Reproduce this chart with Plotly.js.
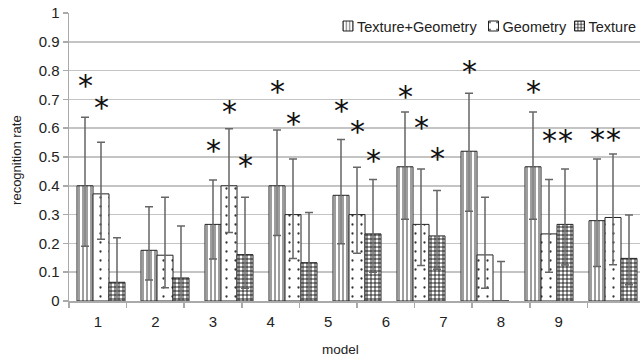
<!DOCTYPE html>
<html>
<head>
<meta charset="utf-8">
<script src="https://cdn.plot.ly/plotly-3.0.1.min.js"></script>
<style>html,body{margin:0;padding:0;background:#fff;}#chart{width:640px;height:358px;}</style>
</head>
<body>
<div id="chart"></div>
<script>
// ---- data ----
var categories = [1, 2, 3, 4, 5, 6, 7, 8, 9];
var tickLabels = ['1', '2', '3', '4', '5', '6', '7', '8', '9'];
var seriesNames = ['Texture+Geometry', 'Geometry', 'Texture'];

var texGeo    = [0.400, 0.176, 0.266, 0.400, 0.367, 0.466, 0.520, 0.466, 0.279];
var texGeoHi  = [0.638, 0.327, 0.420, 0.594, 0.561, 0.656, 0.721, 0.656, 0.493];
var texGeoLo  = [0.190, 0.073, 0.146, 0.227, 0.199, 0.284, 0.312, 0.284, 0.120];

var geometry  = [0.372, 0.159, 0.400, 0.300, 0.300, 0.266, 0.160, 0.233, 0.290];
var geometryHi= [0.551, 0.360, 0.598, 0.493, 0.464, 0.458, 0.360, 0.422, 0.510];
var geometryLo= [0.214, 0.046, 0.238, 0.148, 0.166, 0.123, 0.044, 0.100, 0.126];

var texture   = [0.065, 0.080, 0.161, 0.133, 0.233, 0.226, 0.000, 0.266, 0.148];
var textureHi = [0.220, 0.260, 0.360, 0.307, 0.422, 0.384, 0.137, 0.458, 0.299];
var textureLo = [0.000, 0.000, 0.044, 0.000, 0.100, 0.110, 0.000, 0.125, 0.056];

// significance asterisks: category, series index (0 TG, 1 G, 2 T), level
var starCat    = [1, 1, 3, 3, 3, 4, 4, 5, 5, 5, 6, 6, 6, 7, 8, 8, 8, 9, 9];
var starSeries = [0, 1, 0, 1, 2, 0, 1, 0, 1, 2, 0, 1, 2, 0, 0, 1, 2, 0, 1];
var starLevel  = [0.761, 0.686, 0.536, 0.673, 0.484, 0.742, 0.631, 0.675, 0.602, 0.503,
                  0.723, 0.617, 0.510, 0.811, 0.740, 0.570, 0.570, 0.573, 0.573];

// ---- styling ----
var FONT = 'Liberation Sans, Arial, sans-serif';
var patterns = [
  {shape: '|', size: 4, solidity: 0.22, fgcolor: '#222', bgcolor: '#fff', fillmode: 'replace'},
  {shape: '.', size: 9, solidity: 0.05, fgcolor: '#333', bgcolor: '#fff', fillmode: 'replace'},
  {shape: '+', size: 4, solidity: 0.4, fgcolor: '#111', bgcolor: '#fff', fillmode: 'replace'}
];
var vals = [texGeo, geometry, texture];
var his = [texGeoHi, geometryHi, textureHi];
var los = [texGeoLo, geometryLo, textureLo];

var traces = [];
for (var s = 0; s < 3; s++) {
  traces.push({
    type: 'bar',
    name: seriesNames[s],
    x: categories,
    y: vals[s],
    xaxis: 'x', yaxis: 'y',
    marker: {color: '#fff', pattern: patterns[s], line: {color: '#222', width: 1}},
    error_y: {
      type: 'data', symmetric: false,
      array: vals[s].map(function (v, i) { return his[s][i] - v; }),
      arrayminus: vals[s].map(function (v, i) { return v - los[s][i]; }),
      color: '#666', thickness: 1.5, width: 4
    },
    hoverinfo: 'skip'
  });
}
// helper trace for the label axis
traces.push({type: 'scatter', x: [1], y: [null], xaxis: 'x2', yaxis: 'y', showlegend: false, hoverinfo: 'skip'});

var groupWidth = 0.75, barW = groupWidth / 3;
var annotations = starCat.map(function (c, i) {
  return {
    x: c + (starSeries[i] - 1) * barW, y: starLevel[i], xref: 'x', yref: 'y',
    text: '*', showarrow: false, yshift: -4,
    font: {family: 'DejaVu Sans', size: 30, color: '#111'}
  };
});
annotations.push({text: 'recognition rate', xref: 'paper', yref: 'paper', x: -0.091, y: 0.49,
  xanchor: 'center', yanchor: 'middle',
  textangle: -90, showarrow: false, font: {family: FONT, size: 13, color: '#222'}});
annotations.push({text: 'model', xref: 'paper', yref: 'paper', x: 0.476, y: -0.167, yanchor: 'middle',
  showarrow: false, font: {family: FONT, size: 13.5, color: '#222'}});

var plotW = 640 - 69;
var layout = {
  width: 640, height: 358,
  margin: {l: 69, r: 0, t: 13, b: 57, pad: 0},
  paper_bgcolor: '#fff', plot_bgcolor: '#fff',
  font: {family: FONT, size: 13, color: '#222'},
  barmode: 'group', bargap: 0.25, bargroupgap: 0,
  showlegend: true,
  legend: {orientation: 'h', x: 1, xanchor: 'right', y: 0.955, yanchor: 'middle',
    bgcolor: 'rgba(255,255,255,0)', font: {family: FONT, size: 14.5, color: '#222'},
    traceorder: 'normal', itemwidth: 30},
  xaxis: {type: 'linear', range: [0.5, 0.5 + plotW / 64], showticklabels: false, ticks: '',
    showgrid: false, zeroline: false, showline: false, fixedrange: true},
  xaxis2: {type: 'linear', overlaying: 'x', anchor: 'y', side: 'bottom',
    range: [0.5, 0.5 + plotW / 57.6],
    tickmode: 'array', tickvals: categories, ticktext: tickLabels, ticks: '',
    ticklabelstandoff: 6,
    tickfont: {family: FONT, size: 15, color: '#222'},
    minor: {tickmode: 'linear', tick0: 0.5, dtick: 1, ticks: 'outside', ticklen: 5, tickcolor: '#aaa', tickwidth: 1.5, showgrid: false},
    showgrid: false, zeroline: false, showline: true, linecolor: '#aaa', linewidth: 1.5},
  yaxis: {range: [0, 1], dtick: 0.1, tick0: 0, ticks: 'outside', ticklen: 5, tickcolor: '#aaa', tickwidth: 1.5,
    showline: true, linecolor: '#aaa', linewidth: 1.5, gridcolor: '#c4c4c4', gridwidth: 1.5,
    zeroline: false, tickfont: {family: FONT, size: 15, color: '#222'}},
  annotations: annotations
};

// legend icon centres in the reference (pixels)
var legendIconX = [348, 493.5, 579.5];
var legendIconY = 26;

Plotly.newPlot('chart', traces, layout, {displayModeBar: false, staticPlot: true}).then(function (gd) {
  try {
    var sb = gd.querySelector('.legend .scrollbox');
    if (sb) sb.removeAttribute('clip-path');
    var items = gd.querySelectorAll('.legend .traces');
    items.forEach(function (g, i) {
      var path = g.querySelector('.legendpoints path');
      var txt = g.querySelector('.legendtext');
      if (!path || !txt) return;
      path.setAttribute('d', 'M5,5H-5V-5H5Z');
      var r = path.getBoundingClientRect();
      var cx = r.left + r.width / 2, cy = r.top + r.height / 2;
      var dx = legendIconX[i] - cx, dy = legendIconY - cy;
      var tr = g.getAttribute('transform') || '';
      var m = /translate\(\s*([-\d.e]+)[ ,]+([-\d.e]+)\s*\)/.exec(tr);
      var tx = m ? parseFloat(m[1]) : 0, ty = m ? parseFloat(m[2]) : 0;
      g.setAttribute('transform', 'translate(' + (tx + dx) + ',' + (ty + dy) + ')');
      var pr = path.getBoundingClientRect();
      var trr = txt.getBoundingClientRect();
      var curX = parseFloat(txt.getAttribute('x') || '0');
      txt.setAttribute('x', curX + (pr.right + 4 - trr.left));
    });
  } catch (e) {}
});
</script>
</body>
</html>
